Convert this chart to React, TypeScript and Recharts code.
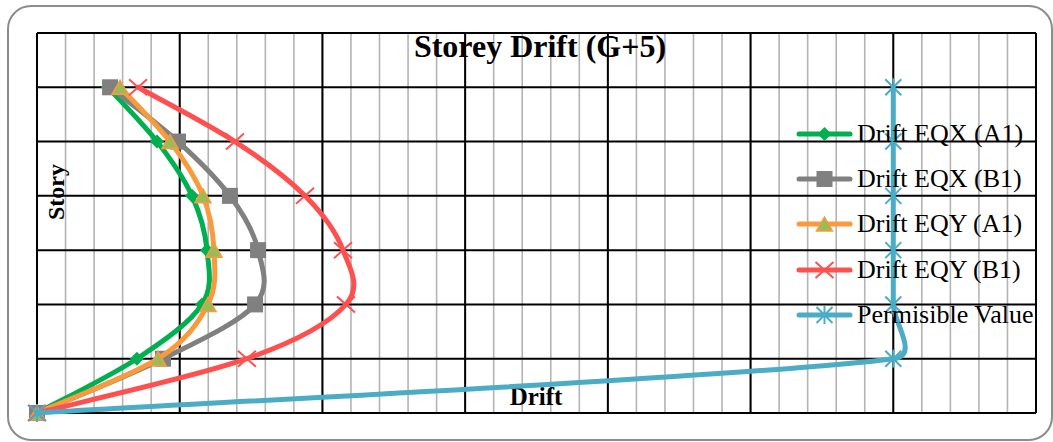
import React from 'react';
import { ScatterChart, Scatter, XAxis, YAxis, CartesianGrid, Legend } from 'recharts';

// ---------- data ----------
const stories = [0, 1, 2, 3, 4, 5, 6];
const driftEqxA1 = [0, 0.7, 1.156, 1.191, 1.086, 0.841, 0.497];
const driftEqxB1 = [0, 0.883, 1.528, 1.549, 1.352, 0.988, 0.512];
const driftEqyA1 = [0, 0.848, 1.198, 1.24, 1.163, 0.932, 0.582];
const driftEqyB1 = [0, 1.471, 2.165, 2.144, 1.878, 1.387, 0.708];
const permissible = [0, 6, 6, 6, 6, 6, 6];

const xMajorTicks = [0, 1, 2, 3, 4, 5, 6, 7];
const xMinorTicks = [
  0, 0.2, 0.4, 0.6, 0.8, 1, 1.2, 1.4, 1.6, 1.8, 2, 2.2, 2.4, 2.6, 2.8, 3, 3.2, 3.4,
  3.6, 3.8, 4, 4.2, 4.4, 4.6, 4.8, 5, 5.2, 5.4, 5.6, 5.8, 6, 6.2, 6.4, 6.6, 6.8, 7,
];
const yTicks = [0, 1, 2, 3, 4, 5, 6, 7];

const titleText = 'Storey Drift (G+5)';
const xLabel = 'Drift';
const yLabel = 'Story';

// ---------- styles ----------
const FONT = '"Liberation Serif", "Times New Roman", serif';

type MarkerKind = 'diamond' | 'square' | 'triangle' | 'cross' | 'star';

const series: { name: string; values: number[]; color: string; marker: MarkerKind }[] = [
  { name: 'Drift EQX (A1)', values: driftEqxA1, color: '#00B050', marker: 'diamond' },
  { name: 'Drift EQX (B1)', values: driftEqxB1, color: '#808080', marker: 'square' },
  { name: 'Drift EQY (A1)', values: driftEqyA1, color: '#F99A3C', marker: 'triangle' },
  { name: 'Drift EQY (B1)', values: driftEqyB1, color: '#FF5050', marker: 'cross' },
  { name: 'Permisible Value', values: permissible, color: '#4BACC6', marker: 'star' },
];

// Excel-like smoothed line (Bezier with limited control arms)
const excelSmooth = (context: any) => {
  let pts: number[][] = [];
  const dist = (a: number[], b: number[]) => Math.hypot(b[0] - a[0], b[1] - a[1]);
  return {
    areaStart() {},
    areaEnd() {},
    lineStart() {
      pts = [];
    },
    point(x: number, y: number) {
      pts.push([+x, +y]);
    },
    lineEnd() {
      const n = pts.length;
      if (!n) return;
      context.moveTo(pts[0][0], pts[0][1]);
      for (let i = 0; i < n - 1; i++) {
        const p0 = pts[i - 1] || pts[i];
        const p1 = pts[i];
        const p2 = pts[i + 1];
        const p3 = pts[i + 2] || pts[i + 1];
        const d12 = dist(p1, p2);
        const d02 = dist(p0, p2);
        const d13 = dist(p1, p3);
        let f1 = 1 / 6;
        let f2 = 1 / 6;
        if (d02 > 0 && d02 / 6 > d12 / 2) f1 = d12 / (2 * d02);
        if (d13 > 0 && d13 / 6 > d12 / 2) f2 = d12 / (2 * d13);
        const c1x = p1[0] + f1 * (p2[0] - p0[0]);
        const c1y = p1[1] + f1 * (p2[1] - p0[1]);
        const c2x = p2[0] - f2 * (p3[0] - p1[0]);
        const c2y = p2[1] - f2 * (p3[1] - p1[1]);
        context.bezierCurveTo(c1x, c1y, c2x, c2y, p2[0], p2[1]);
      }
    },
  };
};

function Marker({ kind, cx, cy, color }: { kind: MarkerKind; cx: number; cy: number; color: string }) {
  switch (kind) {
    case 'diamond':
      return (
        <polygon
          points={`${cx},${cy - 7} ${cx + 7},${cy} ${cx},${cy + 7} ${cx - 7},${cy}`}
          fill={color}
        />
      );
    case 'square':
      return <rect x={cx - 8} y={cy - 8} width={16} height={16} fill={color} />;
    case 'triangle':
      return (
        <polygon
          points={`${cx},${cy - 7} ${cx + 8},${cy + 7} ${cx - 8},${cy + 7}`}
          fill="#9BBB59"
          stroke={color}
          strokeWidth={1.5}
        />
      );
    case 'cross':
      return (
        <g stroke={color} strokeWidth={2}>
          <line x1={cx - 9} y1={cy - 8} x2={cx + 9} y2={cy + 8} />
          <line x1={cx - 9} y1={cy + 8} x2={cx + 9} y2={cy - 8} />
        </g>
      );
    case 'star':
    default:
      return (
        <g stroke={color} strokeWidth={2}>
          <line x1={cx - 8} y1={cy - 8} x2={cx + 8} y2={cy + 8} />
          <line x1={cx - 8} y1={cy + 8} x2={cx + 8} y2={cy - 8} />
          <line x1={cx} y1={cy - 9} x2={cx} y2={cy + 9} />
        </g>
      );
  }
}

const renderLegend = () => (
  <div style={{ fontFamily: FONT, fontSize: 26, color: '#000' }}>
    {series.map((s) => (
      <div key={s.name} style={{ display: 'flex', alignItems: 'center', height: 45.3 }}>
        <svg width={57} height={30} style={{ overflow: 'visible', flex: 'none' }}>
          <line x1={3} x2={54} y1={15} y2={15} stroke={s.color} strokeWidth={5} strokeLinecap="round" />
          <Marker kind={s.marker} cx={28.5} cy={15} color={s.color} />
        </svg>
        <span style={{ marginLeft: 4, whiteSpace: 'nowrap', lineHeight: 1 }}>{s.name}</span>
      </div>
    ))}
  </div>
);

export default function App() {
  return (
    <div
      style={{
        position: 'absolute',
        left: 0,
        top: 0,
        width: 1053,
        height: 442,
        background: '#fff',
        overflow: 'hidden',
      }}
    >
      <div
        style={{
          position: 'absolute',
          left: 7,
          top: 5,
          width: 1046,
          height: 436,
          boxSizing: 'border-box',
          border: '2px solid #8C8C8C',
          borderRadius: 24,
        }}
      />
      <div style={{ position: 'absolute', left: 0, top: 0 }}>
        <ScatterChart width={1053} height={442} margin={{ top: 33, right: 17, bottom: 29, left: 37 }}>
          <XAxis type="number" dataKey="x" domain={[0, 7]} ticks={xMajorTicks} interval={0} hide />
          <YAxis type="number" dataKey="y" domain={[0, 7]} ticks={yTicks} interval={0} hide />
          <CartesianGrid
            horizontal={false}
            vertical
            verticalValues={xMinorTicks}
            stroke="#B4B4B4"
            strokeWidth={1.6}
          />
          <CartesianGrid horizontal vertical stroke="#000" strokeWidth={2} />
          <text
            x={540}
            y={57}
            textAnchor="middle"
            fontFamily={FONT}
            fontWeight="bold"
            fontSize={32}
            fill="#000"
          >
            {titleText}
          </text>
          <text
            transform="translate(64,192) rotate(-90)"
            textAnchor="middle"
            fontFamily={FONT}
            fontWeight="bold"
            fontSize={24}
            fill="#000"
          >
            {yLabel}
          </text>
          <text x={536} y={405} textAnchor="middle" fontFamily={FONT} fontWeight="bold" fontSize={25} fill="#000">
            {xLabel}
          </text>
          {series.map((s) => (
            <Scatter
              key={s.name}
              name={s.name}
              data={stories.map((st, i) => ({ x: s.values[i], y: st }))}
              fill={s.color}
              line={{ stroke: s.color, strokeWidth: 5, strokeLinecap: 'round', strokeLinejoin: 'round' }}
              lineType="joint"
              lineJointType={excelSmooth as any}
              shape={(p: any) => <Marker kind={s.marker} cx={p.cx} cy={p.cy} color={s.color} />}
              isAnimationActive={false}
            />
          ))}
          <Legend
            layout="vertical"
            align="center"
            verticalAlign="middle"
            content={renderLegend}
            wrapperStyle={{ left: 796, top: 111, width: 257, margin: 0 }}
          />
        </ScatterChart>
      </div>
    </div>
  );
}
